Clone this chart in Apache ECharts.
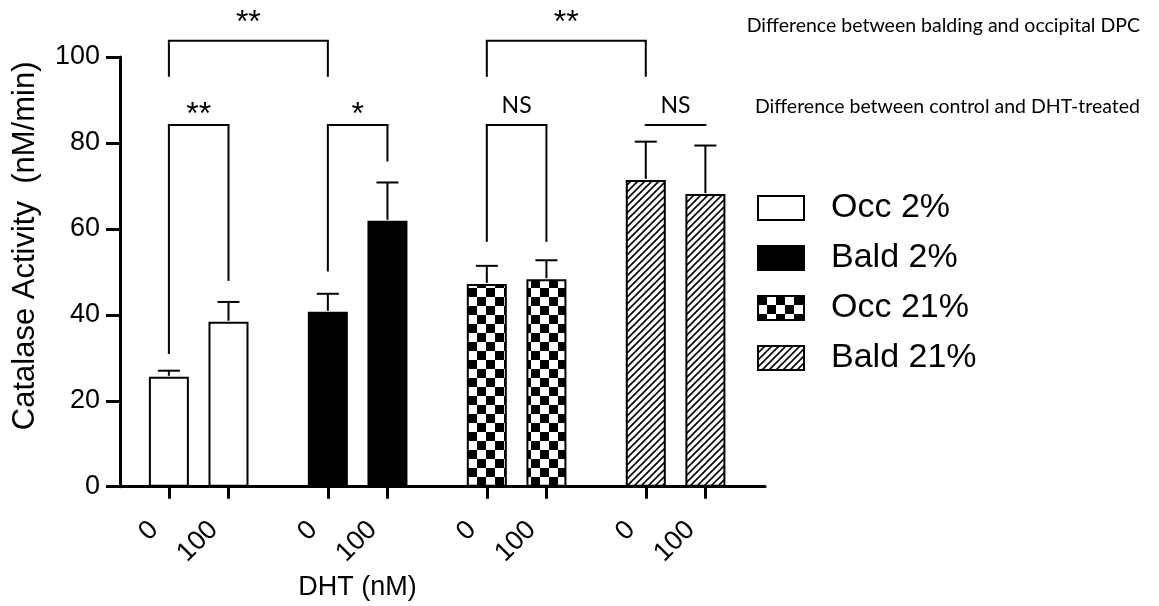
<!DOCTYPE html>
<html>
<head>
<meta charset="utf-8">
<script src="https://cdn.jsdelivr.net/npm/echarts@6/dist/echarts.min.js"></script>
<style>
  html, body { margin: 0; padding: 0; background: #fff; }
  #chart { width: 1159px; height: 606px; }
</style>
</head>
<body>
<div id="chart"></div>
<script>
// Catalase activity of dermal papilla cells, by cell origin / O2 level and DHT dose
const groupNames = ['Occ 2%', 'Bald 2%', 'Occ 21%', 'Bald 21%'];
const doseLabels = ['0', '100'];

// mean and error (upper whisker) per group, for DHT 0 and 100 nM
const occ2Mean = [25.6, 38.4];
const occ2Err = [1.4, 4.6];
const bald2Mean = [40.7, 61.9];
const bald2Err = [4.2, 8.9];
const occ21Mean = [47.2, 48.3];
const occ21Err = [4.2, 4.4];
const bald21Mean = [71.4, 68.1];
const bald21Err = [8.9, 11.3];

const yTicks = [0, 20, 40, 60, 80, 100];

// significance annotations: [group, dose] endpoints, bracket level, leg ends, text
const sigText = ['**', '**', '**', '*', 'NS', 'NS'];
const sigFrom = [[0, 0], [2, 0], [0, 0], [1, 0], [2, 0], [3, 0]];
const sigTo = [[1, 0], [3, 0], [0, 1], [1, 1], [2, 1], [3, 1]];
const sigLevel = [103.8, 103.8, 84.2, 84.2, 84.2, 84.2];
const sigLegFrom = [95.4, 95.4, 30.9, 50.1, 57.0, null];
const sigLegTo = [95.4, 95.4, 47.9, 75.7, 57.0, null];
const sigTextLevel = [109.8, 109.8, 88.4, 88.4, 88.6, 88.6];

const noteTop = 'Difference between balding and occipital DPC';
const noteBottom = 'Difference between control and DHT-treated';

// ---- layout helpers ----
const GROUP_STEP = 8 / 3;
const PAIR_STEP = 1;
const xPos = (g, d) => g * GROUP_STEP + d * PAIR_STEP;

const means = [occ2Mean, bald2Mean, occ21Mean, bald21Mean];
const errs = [occ2Err, bald2Err, occ21Err, bald21Err];

const tickPositions = [];
const tickText = [];
groupNames.forEach((_, g) => doseLabels.forEach((lab, d) => {
  tickPositions.push(xPos(g, d));
  tickText.push(lab);
}));

function checkerPattern(size) {
  const c = document.createElement('canvas');
  c.width = c.height = size * 2;
  const ctx = c.getContext('2d');
  ctx.fillStyle = '#fff';
  ctx.fillRect(0, 0, size * 2, size * 2);
  ctx.fillStyle = '#000';
  ctx.fillRect(0, 0, size, size);
  ctx.fillRect(size, size, size, size);
  return c;
}

function hatchPattern(step, width) {
  const c = document.createElement('canvas');
  c.width = c.height = step;
  const ctx = c.getContext('2d');
  ctx.fillStyle = '#fff';
  ctx.fillRect(0, 0, step, step);
  ctx.strokeStyle = '#000';
  ctx.lineWidth = width;
  ctx.beginPath();
  ctx.moveTo(-1, step + 1); ctx.lineTo(step + 1, -1);
  ctx.moveTo(-1, 1); ctx.lineTo(1, -1);
  ctx.moveTo(step - 1, step + 1); ctx.lineTo(step + 1, step - 1);
  ctx.stroke();
  return c;
}

const fills = [
  '#ffffff',
  '#000000',
  { image: checkerPattern(9), repeat: 'repeat' },
  { image: hatchPattern(7, 1.6), repeat: 'repeat' }
];

const AXIS_FONT = 'Liberation Sans, Arial, sans-serif';
const NOTE_FONT = 'Lato, "Open Sans", sans-serif';

const barSeries = groupNames.map((name, g) => ({
  name: name,
  type: 'bar',
  barWidth: 40,
  barGap: '-100%',
  data: doseLabels.map((_, d) => [xPos(g, d), means[g][d]]),
  itemStyle: { color: fills[g], borderColor: '#000', borderWidth: 2 },
  emphasis: { disabled: true },
  z: 2
}));

const errData = [];
groupNames.forEach((_, g) => doseLabels.forEach((__, d) => {
  errData.push([xPos(g, d), means[g][d], means[g][d] + errs[g][d]]);
}));

const errorSeries = {
  type: 'custom',
  name: 'error',
  data: errData,
  encode: { x: 0, y: [1, 2] },
  z: 3,
  renderItem: function (params, api) {
    const x = api.value(0);
    const p0 = api.coord([x, api.value(1)]);
    const p1 = api.coord([x, api.value(2)]);
    const st = { stroke: '#000', lineWidth: 2 };
    return {
      type: 'group',
      children: [
        { type: 'line', shape: { x1: p0[0], y1: p0[1] - 1, x2: p1[0], y2: p1[1] }, style: st },
        { type: 'line', shape: { x1: p1[0] - 11, y1: p1[1], x2: p1[0] + 11, y2: p1[1] }, style: st }
      ]
    };
  }
};

const bracketSeries = {
  type: 'custom',
  name: 'significance',
  clip: false,
  silent: true,
  data: sigText.map((_, i) => [i]),
  encode: { x: -1, y: -1 },
  z: 4,
  renderItem: function (params, api) {
    const i = api.value(0);
    const xa = xPos(sigFrom[i][0], sigFrom[i][1]);
    const xb = xPos(sigTo[i][0], sigTo[i][1]);
    const a = api.coord([xa, sigLevel[i]]);
    const b = api.coord([xb, sigLevel[i]]);
    const st = { stroke: '#000', lineWidth: 2 };
    const children = [
      { type: 'line', shape: { x1: a[0] - 1, y1: a[1], x2: b[0] + 1, y2: b[1] }, style: st }
    ];
    if (sigLegFrom[i] !== null) {
      const la = api.coord([xa, sigLegFrom[i]]);
      const lb = api.coord([xb, sigLegTo[i]]);
      children.push({ type: 'line', shape: { x1: a[0], y1: a[1], x2: la[0], y2: la[1] }, style: st });
      children.push({ type: 'line', shape: { x1: b[0], y1: b[1], x2: lb[0], y2: lb[1] }, style: st });
    }
    const t = api.coord([(xa + xb) / 2, sigTextLevel[i]]);
    const isStar = sigText[i].indexOf('*') >= 0;
    children.push({
      type: 'text',
      x: t[0],
      y: t[1] + (isStar ? 8 : 0),
      style: {
        text: sigText[i],
        fontFamily: isStar ? AXIS_FONT : NOTE_FONT,
        fontSize: isStar ? 32 : 23,
        fill: '#000',
        align: 'center',
        verticalAlign: 'middle'
      }
    });
    return { type: 'group', children: children };
  }
};

const chart = echarts.init(document.getElementById('chart'), null, { renderer: 'canvas' });

chart.setOption({
  backgroundColor: '#ffffff',
  animation: false,
  grid: { left: 120, right: 394, top: 57, bottom: 119 },
  xAxis: {
    type: 'value',
    min: -0.82,
    max: 10,
    splitLine: { show: false },
    axisLine: { show: true, onZero: false, lineStyle: { color: '#000', width: 3 } },
    axisTick: {
      show: true, length: 12, customValues: tickPositions,
      lineStyle: { color: '#000', width: 3 }
    },
    axisLabel: {
      customValues: tickPositions,
      rotate: 45,
      margin: 24,
      padding: [0, 21, 0, 0],
      color: '#000',
      fontFamily: AXIS_FONT,
      fontSize: 27,
      formatter: function (v) {
        const k = tickPositions.findIndex(p => Math.abs(p - v) < 1e-6);
        return k >= 0 ? tickText[k] : '';
      }
    },
    name: 'DHT (nM)',
    nameLocation: 'middle',
    nameGap: 84,
    nameTextStyle: {
      color: '#000', fontFamily: AXIS_FONT, fontSize: 27,
      padding: [0, 170, 0, 0]
    }
  },
  yAxis: {
    type: 'value',
    min: yTicks[0],
    max: yTicks[yTicks.length - 1],
    interval: 20,
    splitLine: { show: false },
    axisLine: { show: true, onZero: false, lineStyle: { color: '#000', width: 3 } },
    axisTick: { show: true, length: 14, lineStyle: { color: '#000', width: 3 } },
    axisLabel: { color: '#000', fontFamily: AXIS_FONT, fontSize: 27, margin: 20 },
    name: 'Catalase Activity  (nM/min)',
    nameLocation: 'middle',
    nameRotate: 90,
    nameGap: 79,
    nameTextStyle: {
      color: '#000', fontFamily: AXIS_FONT, fontSize: 31,
      padding: [0, 0, 0, 52]
    }
  },
  legend: {
    data: groupNames,
    orient: 'vertical',
    left: 752,
    top: 186,
    itemWidth: 46,
    itemHeight: 24,
    itemGap: 16,
    icon: 'rect',
    selectedMode: false,
    textStyle: {
      color: '#000', fontFamily: AXIS_FONT, fontSize: 34,
      padding: [0, 0, 0, 22]
    }
  },
  graphic: [
    {
      type: 'text', right: 19, top: 16,
      style: { text: noteTop, fontFamily: NOTE_FONT, fontSize: 19.5, fill: '#000' }
    },
    {
      type: 'text', right: 19, top: 97,
      style: { text: noteBottom, fontFamily: NOTE_FONT, fontSize: 19.5, fill: '#000' }
    }
  ],
  series: barSeries.concat([errorSeries, bracketSeries])
});
</script>
</body>
</html>
